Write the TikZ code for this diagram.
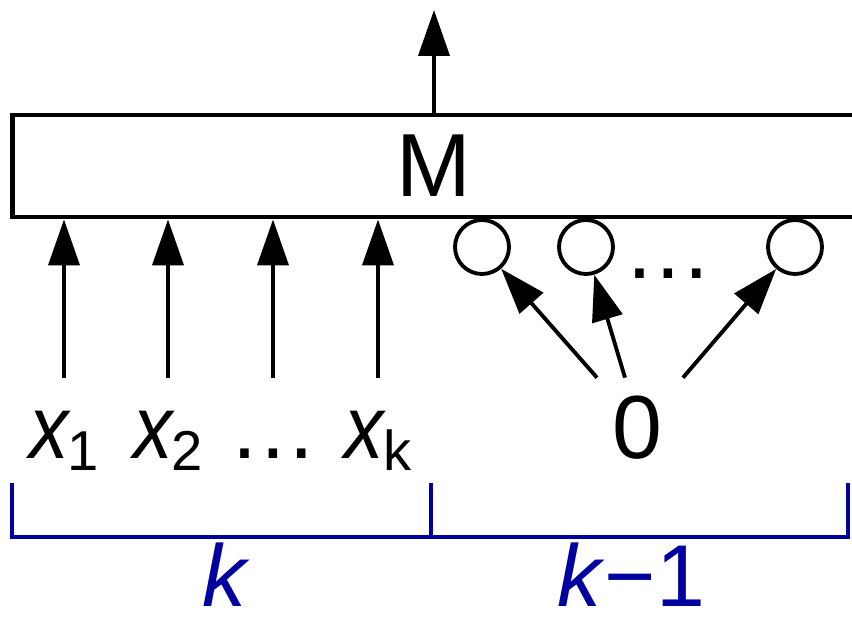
\documentclass[tikz,border=0pt]{standalone}
\usepackage{fontspec}
\setmainfont{Liberation Sans}
\usetikzlibrary{arrows.meta}
\definecolor{bracecol}{RGB}{0,0,160}
\newcommand{\xin}[1]{\scalebox{0.88}[1]{\textit{x}}\kern-0.04em\raisebox{-0.26cm}{\fontsize{32}{32}\selectfont #1}}

\begin{document}
\begin{tikzpicture}[x=0.02cm, y=-0.02cm,
  arr/.style={line width=2.2pt, -{Triangle[length=0.92cm, width=0.62cm]}},
  box/.style={draw, line width=2.8pt, minimum width=16.88cm, minimum height=2.04cm, inner sep=0, font=\fontsize{51}{51}\selectfont},
  lbl/.style={inner sep=0, anchor=base, text height=1.6cm, font=\fontsize{51}{51}\selectfont},
  ring/.style={draw, circle, line width=2.2pt, minimum size=1.08cm, inner sep=0},
  brace/.style={draw=bracecol, line width=2.2pt},
  blbl/.style={text=bracecol, anchor=base, inner sep=0, text depth=0pt, font=\fontsize{50}{50}\selectfont}]
\useasboundingbox (0,0) rectangle (852,618);
\clip (0,0) rectangle (852,618);

% the block and its output
\node[box] (M) at (434,166) {M};
\coordinate (out) at (434,10);
\draw[arr] (M.north) -- (out);

% k inputs
\node[lbl] (x1) at (64,458) {\xin{1}};
\node[lbl] (x2) at (168,458) {\xin{2}};
\node[lbl] (xd) at (273,458) {…};
\node[lbl] (xk) at (378,458) {\xin{k}};
\foreach \n in {x1,x2,xd,xk}
  \draw[arr] (\n.north) -- (\n.north |- M.south);

% k-1 zero inputs
\node[ring] (c1) at (482,247) {};
\node[ring] (c2) at (586,247) {};
\node[ring] (c3) at (795,247) {};
\node[inner sep=0, anchor=base, font=\fontsize{51}{51}\selectfont] (cdots) at (668,278) {…};
\node[lbl] (zero) at (637,458) {0};
\draw[arr] ([xshift=-0.8cm]zero.north) -- (c1);
\draw[arr] ([xshift=-0.24cm]zero.north) -- (c2);
\draw[arr] ([xshift=0.92cm]zero.north) -- (c3);

% braces
\draw[brace] (12,483) -- (12,537) -- (848,537) -- (848,483);
\draw[brace] (431,483) -- (431,537);
\node[blbl] (kl) at (226,606) {\textit{k}};
\node[blbl] (kr) at (631,606) {\textit{k}−1};
\end{tikzpicture}
\end{document}
